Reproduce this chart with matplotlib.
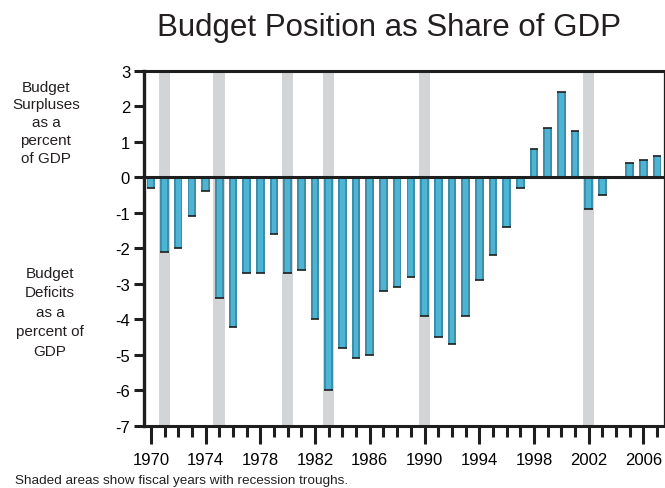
import numpy as np
import matplotlib
matplotlib.use("Agg")
import matplotlib.pyplot as plt
from matplotlib.ticker import MultipleLocator

plt.rcParams['font.family'] = ['Liberation Sans', 'DejaVu Sans']
plt.rcParams['axes.unicode_minus'] = False

# data (fiscal years, budget surplus/deficit as percent of GDP)
years = [1970, 1971, 1972, 1973, 1974, 1975, 1976, 1977, 1978, 1979,
         1980, 1981, 1982, 1983, 1984, 1985, 1986, 1987, 1988, 1989,
         1990, 1991, 1992, 1993, 1994, 1995, 1996, 1997, 1998, 1999,
         2000, 2001, 2002, 2003, 2005, 2006, 2007]
values = [-0.3, -2.1, -2.0, -1.1, -0.4, -3.4, -4.2, -2.7, -2.7, -1.6,
          -2.7, -2.6, -4.0, -6.0, -4.8, -5.1, -5.0, -3.2, -3.1, -2.8,
          -3.9, -4.5, -4.7, -3.9, -2.9, -2.2, -1.4, -0.3, 0.8, 1.4,
          2.4, 1.3, -0.9, -0.5, 0.4, 0.5, 0.6]
recession_years = [1971, 1975, 1980, 1983, 1990, 2002]
label_years = list(range(1970, 2007, 4))

years = np.array(years)
values = np.array(values)

fig = plt.figure(figsize=(6.65, 4.89), dpi=100)
ax = fig.add_axes([0.2165, 0.1268, 0.782, 0.7266])

# recession shading
for ry in recession_years:
    ax.axvspan(ry - 0.42, ry + 0.42, color='#d3d4d6', lw=0, zorder=1)

# bars, darker outer and lighter inner to imitate shading
w = 0.63
ax.bar(years, values, width=w, color='#3e8ea9', edgecolor='none', zorder=2)
ax.bar(years, values, width=w * 0.55, color='#4db4d3', edgecolor='none', zorder=3)
ax.hlines(values, years - w / 2, years + w / 2, color='#1e1e1e', lw=1.2, zorder=4)

ax.axhline(0, color='#1e1e1e', lw=2.2, zorder=5)

ax.set_xlim(1969.5, 2007.5)
ax.set_ylim(-7, 3)
ax.yaxis.set_major_locator(MultipleLocator(1))
ax.set_xticks(label_years)
ax.set_xticklabels([str(y) for y in label_years])
ax.xaxis.set_minor_locator(MultipleLocator(1))

ax.tick_params(axis='x', which='major', length=13, width=2.2, color='#1e1e1e',
               labelsize=12, pad=6, direction='out')
ax.tick_params(axis='x', which='minor', length=8, width=2.2, color='#1e1e1e',
               direction='out')
ax.tick_params(axis='y', which='major', length=7, width=2.2, color='#1e1e1e',
               labelsize=12, pad=3, direction='out')

ax.spines['left'].set_linewidth(2.4)
for s in ['top', 'bottom']:
    ax.spines[s].set_linewidth(2.2)
ax.spines['right'].set_linewidth(0.9)
for s in ax.spines.values():
    s.set_color('#1e1e1e')
    s.set_zorder(6)

fig.text(0.585, 0.926, 'Budget Position as Share of GDP', fontsize=22.5,
         ha='center', va='baseline', color='#231f20')

fig.text(0.069, 0.748, 'Budget\nSurpluses\nas a\npercent\nof GDP', fontsize=11,
         ha='center', va='center', linespacing=1.35, color='#231f20')
fig.text(0.075, 0.36, 'Budget\nDeficits\nas a\npercent of\nGDP', fontsize=11,
         ha='center', va='center', linespacing=1.5, color='#231f20')

fig.text(0.022, 0.011, 'Shaded areas show fiscal years with recession troughs.',
         fontsize=9.7, ha='left', va='baseline', color='#231f20')

fig.savefig('out.png', dpi=100)
